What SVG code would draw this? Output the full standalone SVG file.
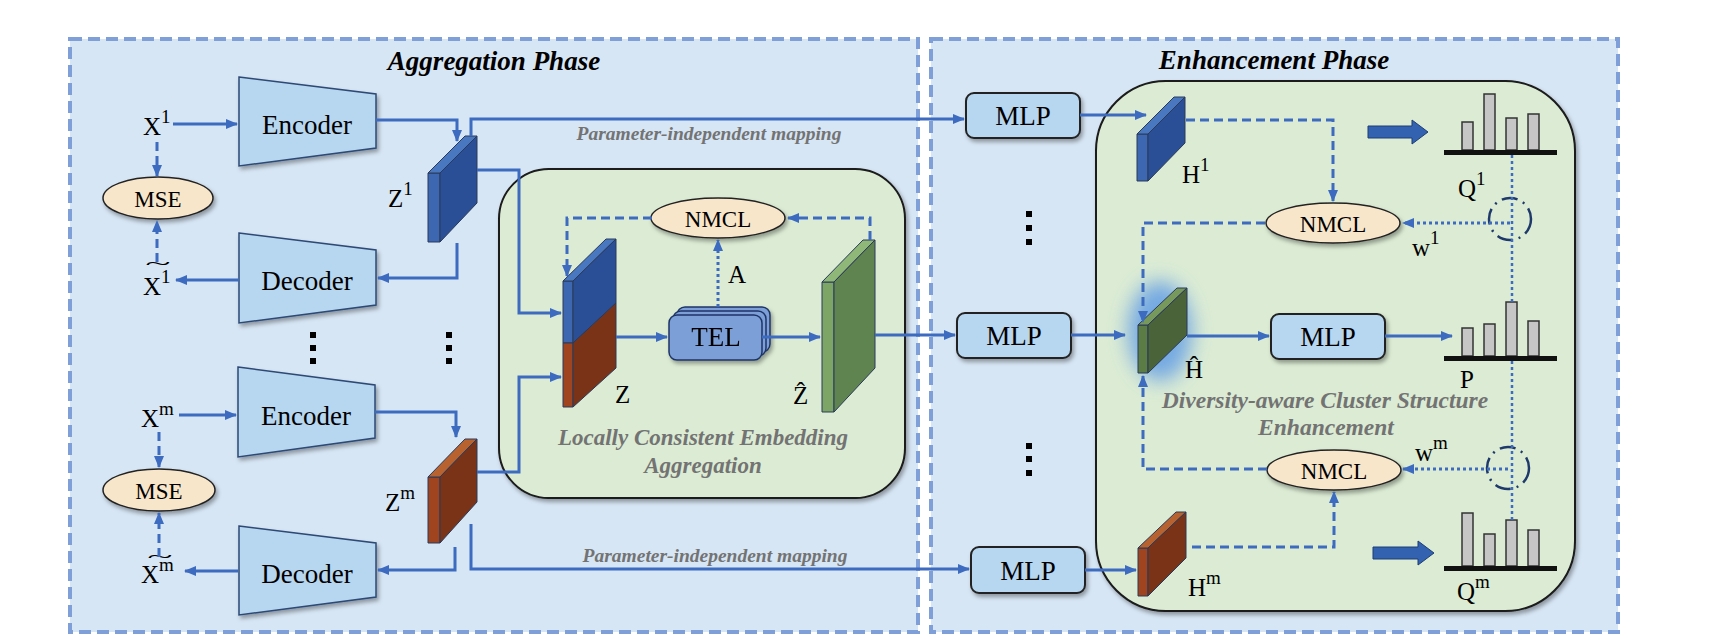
<svg xmlns="http://www.w3.org/2000/svg" width="1716" height="644" viewBox="0 0 1716 644">
<style>
.panel{fill:#d7e6f5;stroke:#7f9fd8;stroke-width:4;stroke-dasharray:12 6}
.cont{fill:#dcecd4;stroke:#1a1a1a;stroke-width:2}
.trap{fill:#b7d6f0;stroke:#2d4a75;stroke-width:1.5}
.mlp{fill:#b7d6f0;stroke:#222;stroke-width:2}
.ell{fill:#f8e6cb;stroke:#222;stroke-width:1.5}
.tel{fill:#7b9fd8;stroke:#1f3566;stroke-width:1.5}
.slab{stroke:#2a3a5a;stroke-width:1}
.bF{fill:#3d67b1}.bT{fill:#4a78c0}.bS{fill:#2b4f96}
.rF{fill:#a0441f}.rT{fill:#b8632f}.rS{fill:#7a3316}
.gF{fill:#7da566}.gT{fill:#8fb878}.gS{fill:#5f8450}
.dF{fill:#5b7d45}.dT{fill:#77995c}.dS{fill:#4b6339}
.bar{fill:#c6c6c6;stroke:#333;stroke-width:1.5}
.base{fill:#111}
.fat{fill:#3362b0;stroke:#1f3d75;stroke-width:1}
.c{fill:none;stroke:#3c6bc0;stroke-width:3}
.dash{stroke-dasharray:9 5}
.dot{stroke-dasharray:3 3}
.thin{stroke-width:2.5}
.dc{fill:none;stroke:#1f3a6a;stroke-width:2.5;stroke-dasharray:16 6 2 6}
.t{font-family:"Liberation Serif","Times New Roman",serif;fill:#000}
.lbl{font-family:"Liberation Serif","Times New Roman",serif;font-size:27px;text-anchor:middle;fill:#000}
.math{font-family:"Liberation Serif","Times New Roman",serif;font-size:25px;fill:#000}
.sup{font-size:19px}
.title{font-family:"Liberation Serif","Times New Roman",serif;font-size:27px;font-weight:bold;font-style:italic;text-anchor:middle;fill:#000}
.note{font-family:"Liberation Serif","Times New Roman",serif;font-weight:bold;font-style:italic;text-anchor:middle;fill:#737373}
.dots{fill:#000}
</style>
<defs>
<marker id="ah" viewBox="0 0 12 10" refX="11" refY="5" markerWidth="12" markerHeight="10" orient="auto" markerUnits="userSpaceOnUse">
<path d="M0,0 L12,5 L0,10 z" fill="#3c6bc0"/>
</marker>
<filter id="sh" x="-20%" y="-20%" width="140%" height="150%">
<feDropShadow dx="2" dy="3" stdDeviation="2" flood-color="#000" flood-opacity="0.35"/>
</filter>
<filter id="glow" x="-100%" y="-100%" width="300%" height="300%">
<feGaussianBlur stdDeviation="10"/>
</filter>
</defs>

<g id="panels">
<rect id="aggregation-phase" class="panel" x="70" y="39" width="848" height="593"/>
<rect id="enhancement-phase" class="panel" x="931" y="39" width="687" height="593"/>
<text class="title" x="494" y="70">Aggregation Phase</text>
<text class="title" x="1274" y="69">Enhancement Phase</text>
</g>

<g id="lcea">
<rect class="cont" x="499" y="169" width="406" height="329" rx="50" ry="50" filter="url(#sh)"/>
<text class="note" x="703" y="445" font-size="23">Locally Consistent Embedding</text>
<text class="note" x="703" y="473" font-size="23">Aggregation</text>
</g>

<g id="dcse">
<rect class="cont" x="1096" y="81" width="479" height="530" rx="70" ry="70" filter="url(#sh)"/>
<text class="note" x="1325" y="408" font-size="23.5">Diversity-aware Cluster Structure</text>
<text class="note" x="1326" y="435" font-size="23.5">Enhancement</text>
</g>

<g id="encoder1"><polygon class="trap" points="239,77 376,94 376,148 239,166" filter="url(#sh)"/><text class="lbl" x="307" y="134">Encoder</text></g>
<g id="decoder1"><polygon class="trap" points="239,233 376,250 376,305 239,323" filter="url(#sh)"/><text class="lbl" x="307" y="290">Decoder</text></g>
<g id="encoderm"><polygon class="trap" points="238,367 375,385 375,438 238,457" filter="url(#sh)"/><text class="lbl" x="306" y="425">Encoder</text></g>
<g id="decoderm"><polygon class="trap" points="239,526 376,543 376,597 239,615" filter="url(#sh)"/><text class="lbl" x="307" y="583">Decoder</text></g>

<g id="mse1"><ellipse class="ell" cx="158" cy="198" rx="55" ry="21" filter="url(#sh)"/><text class="t" x="158" y="207" font-size="23" text-anchor="middle">MSE</text></g>
<g id="msem"><ellipse class="ell" cx="159" cy="490" rx="56" ry="21" filter="url(#sh)"/><text class="t" x="159" y="499" font-size="23" text-anchor="middle">MSE</text></g>

<g id="x1"><text class="math" x="143" y="135">X<tspan class="sup" dy="-12">1</tspan></text></g>
<g id="x1rec"><text class="math" x="143" y="295">X<tspan class="sup" dy="-12">1</tspan></text><text class="t" font-size="18" text-anchor="middle" transform="translate(158,270) scale(2.6,1)">~</text></g>
<g id="xm"><text class="math" x="141" y="427">X<tspan class="sup" dy="-12">m</tspan></text></g>
<g id="xmrec"><text class="math" x="141" y="583">X<tspan class="sup" dy="-12">m</tspan></text><text class="t" font-size="18" text-anchor="middle" transform="translate(160,563) scale(2.6,1)">~</text></g>

<g id="z1">
<polygon class="slab bF" points="428,173 440,173 440,242 428,242"/>
<polygon class="slab bT" points="428,173 465,136 477,136 440,173"/>
<polygon class="slab bS" points="440,173 477,136 477,203 440,242"/>
<text class="math" x="388" y="207">Z<tspan class="sup" dy="-12">1</tspan></text>
</g>
<g id="zm">
<polygon class="slab rF" points="428,477 440,477 440,543 428,543"/>
<polygon class="slab rT" points="428,477 465,439 477,439 440,477"/>
<polygon class="slab rS" points="440,477 477,439 477,502 440,543"/>
<text class="math" x="385" y="511">Z<tspan class="sup" dy="-12">m</tspan></text>
</g>

<g id="z">
<polygon class="slab bF" points="563,281 573,281 573,343 563,343"/>
<polygon class="slab rF" points="563,343 573,343 573,407 563,407"/>
<polygon class="slab bT" points="563,281 606,239 616,239 573,281"/>
<polygon class="slab bS" points="573,281 616,239 616,303 573,343"/>
<polygon class="slab rS" points="573,343 616,303 616,368 573,407"/>
<text class="math" x="615" y="403">Z</text>
</g>

<g id="nmcl-a"><ellipse class="ell" cx="718" cy="218" rx="67" ry="20" filter="url(#sh)"/><text class="t" x="718" y="227" font-size="23" text-anchor="middle">NMCL</text></g>

<g id="tel" filter="url(#sh)">
<rect class="tel" x="677" y="307" width="93" height="45" rx="8"/>
<rect class="tel" x="673" y="311" width="93" height="45" rx="8"/>
<rect class="tel" x="669" y="315" width="93" height="45" rx="8"/>
<text class="lbl" x="716" y="346">TEL</text>
</g>
<g id="a-label"><text class="math" x="728" y="283">A</text></g>

<g id="zhat">
<polygon class="slab gF" points="822,282 834,282 834,412 822,412"/>
<polygon class="slab gT" points="822,282 863,240 875,240 834,282"/>
<polygon class="slab gS" points="834,282 875,240 875,368 834,412"/>
<text class="math" x="793" y="404">Ẑ</text>
</g>

<g id="dots">
<rect class="dots" x="310" y="332" width="6" height="6"/><rect class="dots" x="310" y="345" width="6" height="6"/><rect class="dots" x="310" y="358" width="6" height="6"/>
<rect class="dots" x="446" y="332" width="6" height="6"/><rect class="dots" x="446" y="345" width="6" height="6"/><rect class="dots" x="446" y="358" width="6" height="6"/>
<rect class="dots" x="1026" y="211" width="6" height="6"/><rect class="dots" x="1026" y="225" width="6" height="6"/><rect class="dots" x="1026" y="239" width="6" height="6"/>
<rect class="dots" x="1026" y="443" width="6" height="6"/><rect class="dots" x="1026" y="456" width="6" height="6"/><rect class="dots" x="1026" y="470" width="6" height="6"/>
</g>

<g id="mlp-top"><rect class="mlp" x="966" y="93" width="114" height="45" rx="8" filter="url(#sh)"/><text class="lbl" x="1023" y="125">MLP</text></g>
<g id="mlp-mid"><rect class="mlp" x="957" y="313" width="114" height="45" rx="8" filter="url(#sh)"/><text class="lbl" x="1014" y="345">MLP</text></g>
<g id="mlp-bot"><rect class="mlp" x="971" y="547" width="114" height="46" rx="8" filter="url(#sh)"/><text class="lbl" x="1028" y="580">MLP</text></g>
<g id="mlp-right"><rect class="mlp" x="1271" y="314" width="114" height="45" rx="8" filter="url(#sh)"/><text class="lbl" x="1328" y="346">MLP</text></g>

<g id="h1">
<polygon class="slab bF" points="1137,134 1148,134 1148,181 1137,181"/>
<polygon class="slab bT" points="1137,134 1174,97 1185,97 1148,134"/>
<polygon class="slab bS" points="1148,134 1185,97 1185,143 1148,181"/>
<text class="math" x="1182" y="183">H<tspan class="sup" dy="-12">1</tspan></text>
</g>
<g id="hhat">
<ellipse cx="1160" cy="331" rx="32" ry="50" fill="#5a98e6" opacity="0.8" filter="url(#glow)"/>
<polygon class="slab dF" points="1138,325 1148,325 1148,373 1138,373"/>
<polygon class="slab dT" points="1138,325 1177,288 1187,288 1148,325"/>
<polygon class="slab dS" points="1148,325 1187,288 1187,335 1148,373"/>
<text class="math" x="1185" y="378">Ĥ</text>
</g>
<g id="hm">
<polygon class="slab rF" points="1138,548 1148,548 1148,596 1138,596"/>
<polygon class="slab rT" points="1138,548 1176,512 1186,512 1148,548"/>
<polygon class="slab rS" points="1148,548 1186,512 1186,558 1148,596"/>
<text class="math" x="1188" y="596">H<tspan class="sup" dy="-12">m</tspan></text>
</g>

<g id="nmcl-1"><ellipse class="ell" cx="1333" cy="223" rx="67" ry="20" filter="url(#sh)"/><text class="t" x="1333" y="232" font-size="23" text-anchor="middle">NMCL</text></g>
<g id="nmcl-m"><ellipse class="ell" cx="1334" cy="470" rx="67" ry="20" filter="url(#sh)"/><text class="t" x="1334" y="479" font-size="23" text-anchor="middle">NMCL</text></g>

<g id="q1">
<rect class="bar" x="1462" y="122" width="11" height="28"/><rect class="bar" x="1484" y="94" width="11" height="56"/><rect class="bar" x="1506" y="118" width="11" height="32"/><rect class="bar" x="1528" y="114" width="11" height="36"/>
<rect class="base" x="1444" y="150" width="113" height="5"/>
<polygon class="fat" points="1368,126 1412,126 1412,120 1428,132 1412,144 1412,138 1368,138"/>
<text class="math" x="1458" y="197">Q<tspan class="sup" dy="-12">1</tspan></text>
</g>
<g id="p">
<rect class="bar" x="1462" y="328" width="11" height="28"/><rect class="bar" x="1484" y="324" width="11" height="32"/><rect class="bar" x="1506" y="302" width="11" height="54"/><rect class="bar" x="1528" y="321" width="11" height="35"/>
<rect class="base" x="1444" y="356" width="113" height="5"/>
<text class="math" x="1460" y="388">P</text>
</g>
<g id="qm">
<rect class="bar" x="1462" y="513" width="11" height="53"/><rect class="bar" x="1484" y="534" width="11" height="32"/><rect class="bar" x="1506" y="520" width="11" height="46"/><rect class="bar" x="1528" y="530" width="11" height="36"/>
<rect class="base" x="1444" y="566" width="113" height="5"/>
<polygon class="fat" points="1373,547 1418,547 1418,541 1434,553 1418,565 1418,559 1373,559"/>
<text class="math" x="1457" y="600">Q<tspan class="sup" dy="-12">m</tspan></text>
</g>

<g id="weights">
<circle class="dc" cx="1510" cy="219" r="21"/>
<circle class="dc" cx="1508" cy="468" r="21"/>
<text class="math" x="1412" y="256">w<tspan class="sup" dy="-12">1</tspan></text>
<text class="math" x="1415" y="461">w<tspan class="sup" dy="-12">m</tspan></text>
</g>

<g id="connectors">
<path class="c" d="M173,124 H237" marker-end="url(#ah)"/>
<path class="c" d="M376,120 H457 V141" marker-end="url(#ah)"/>
<path class="c" d="M471,136 V119 H964" marker-end="url(#ah)"/>
<path class="c" d="M477,170 H519 V313 H561" marker-end="url(#ah)"/>
<path class="c" d="M457,243 V278 H378" marker-end="url(#ah)"/>
<path class="c" d="M239,280 H176" marker-end="url(#ah)"/>
<path class="c dash" d="M157,142 V176" marker-end="url(#ah)"/>
<path class="c dash" d="M157,262 V221" marker-end="url(#ah)"/>
<path class="c" d="M179,415 H236" marker-end="url(#ah)"/>
<path class="c" d="M375,412 H456 V437" marker-end="url(#ah)"/>
<path class="c" d="M477,472 H519 V377 H561" marker-end="url(#ah)"/>
<path class="c" d="M455,547 V570 H378" marker-end="url(#ah)"/>
<path class="c" d="M471,524 V569 H969" marker-end="url(#ah)"/>
<path class="c" d="M238,571 H185" marker-end="url(#ah)"/>
<path class="c dash" d="M159,432 V467" marker-end="url(#ah)"/>
<path class="c dash" d="M159,557 V513" marker-end="url(#ah)"/>
<path class="c dash" d="M652,218 H567 V276" marker-end="url(#ah)"/>
<path class="c dash" d="M870,240 V218 H788" marker-end="url(#ah)"/>
<path class="c" d="M616,337 H667" marker-end="url(#ah)"/>
<path class="c" d="M762,337 H820" marker-end="url(#ah)"/>
<path class="c dot" d="M718,307 V240" marker-end="url(#ah)"/>
<path class="c" d="M875,335 H955" marker-end="url(#ah)"/>
<path class="c" d="M1080,115 H1146" marker-end="url(#ah)"/>
<path class="c" d="M1071,335 H1125" marker-end="url(#ah)"/>
<path class="c" d="M1085,570 H1136" marker-end="url(#ah)"/>
<path class="c dash" d="M1186,120 H1333 V201" marker-end="url(#ah)"/>
<path class="c dash" d="M1265,223 H1143 V322" marker-end="url(#ah)"/>
<path class="c dash" d="M1267,469 H1143 V376" marker-end="url(#ah)"/>
<path class="c dash" d="M1192,547 H1334 V492" marker-end="url(#ah)"/>
<path class="c" d="M1187,336 H1269" marker-end="url(#ah)"/>
<path class="c" d="M1385,336 H1452" marker-end="url(#ah)"/>
<path class="c dot" d="M1510,223 H1403" marker-end="url(#ah)"/>
<path class="c dot" d="M1508,469 H1403" marker-end="url(#ah)"/>
<path class="c dot thin" d="M1512,155 V302"/>
<path class="c dot thin" d="M1512,361 V520"/>
<text class="note" x="709" y="140" font-size="19.5">Parameter-independent mapping</text>
<text class="note" x="715" y="562" font-size="19.5">Parameter-independent mapping</text>
</g>
</svg>
